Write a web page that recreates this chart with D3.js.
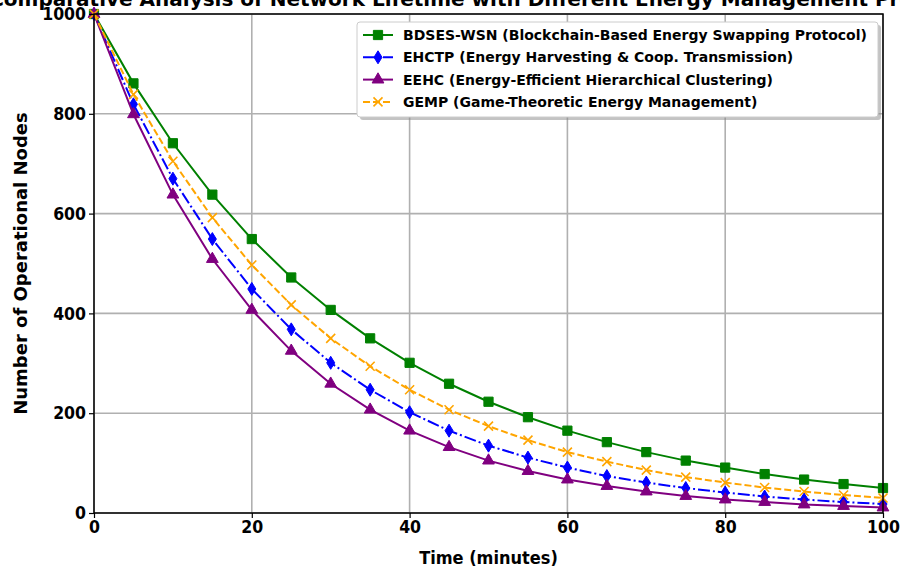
<!DOCTYPE html>
<html>
<head>
<meta charset="utf-8">
<script src="https://cdn.jsdelivr.net/npm/d3@7"></script>
<style>
  body { margin: 0; background: #fff; }
  svg { display: block; }
  .tick text { font-family: "DejaVu Sans Condensed", "DejaVu Sans"; font-weight: bold; font-size: 17.5px; fill: #000; }
</style>
</head>
<body>
<div class="viz"></div>
<script>
const width = 900, height = 569;
const margin = { top: 14, right: 17, bottom: 56, left: 94 };

const times = [0, 5, 10, 15, 20, 25, 30, 35, 40, 45, 50, 55, 60, 65, 70, 75, 80, 85, 90, 95, 100];
const bdses = [1000, 861, 741, 638, 549, 472, 407, 350, 301, 259, 223, 192, 165, 142, 122, 105, 91, 78, 67, 58, 50];
const ehctp = [1000, 819, 670, 549, 449, 368, 301, 247, 202, 165, 135, 111, 91, 74, 61, 50, 41, 33, 27, 22, 18];
const eehc = [1000, 799, 638, 509, 407, 325, 259, 207, 165, 132, 105, 84, 67, 54, 43, 34, 27, 22, 17, 14, 11];
const gemp = [1000, 839, 705, 592, 497, 417, 350, 294, 247, 207, 174, 146, 122, 103, 86, 72, 61, 51, 43, 36, 30];

const xTicks = [0, 20, 40, 60, 80, 100];
const yTicks = [0, 200, 400, 600, 800, 1000];

const series = [
  { name: "BDSES-WSN (Blockchain-Based Energy Swapping Protocol)", values: bdses, color: "green", dash: null, marker: "square" },
  { name: "EHCTP (Energy Harvesting & Coop. Transmission)", values: ehctp, color: "blue", dash: "12,3,2,3", marker: "diamond" },
  { name: "EEHC (Energy-Efficient Hierarchical Clustering)", values: eehc, color: "purple", dash: null, marker: "triangle" },
  { name: "GEMP (Game-Theoretic Energy Management)", values: gemp, color: "orange", dash: "7,3", marker: "x" }
];

const svg = d3.select(".viz").append("svg").attr("width", width).attr("height", height);

const x = d3.scaleLinear().domain([0, 100]).range([margin.left, width - margin.right]);
const y = d3.scaleLinear().domain([0, 1000]).range([height - margin.bottom, margin.top]);

// grid
svg.append("g").selectAll("line").data(xTicks).join("line")
  .attr("x1", d => x(d)).attr("x2", d => x(d))
  .attr("y1", y(0)).attr("y2", y(1000))
  .attr("stroke", "#b0b0b0").attr("stroke-width", 1.6);
svg.append("g").selectAll("line").data(yTicks).join("line")
  .attr("y1", d => y(d)).attr("y2", d => y(d))
  .attr("x1", x(0)).attr("x2", x(100))
  .attr("stroke", "#b0b0b0").attr("stroke-width", 1.6);

function markerPath(type) {
  if (type === "square") return d3.symbol(d3.symbolSquare, 85)();
  if (type === "triangle") return d3.symbol(d3.symbolTriangle, 60)();
  if (type === "diamond") return "M0,-6.5L4,0L0,6.5L-4,0Z";
  return "M-4.5,-4.5L4.5,4.5M-4.5,4.5L4.5,-4.5";
}

const line = d3.line().x((d, i) => x(times[i])).y(d => y(d));

series.forEach(s => {
  const g = svg.append("g");
  g.append("path")
    .attr("d", line(s.values))
    .attr("fill", "none")
    .attr("stroke", s.color)
    .attr("stroke-width", 2)
    .attr("stroke-dasharray", s.dash);
  g.selectAll("path.m").data(s.values).join("path")
    .attr("class", "m")
    .attr("transform", (d, i) => `translate(${x(times[i])},${y(d)})`)
    .attr("d", markerPath(s.marker))
    .attr("fill", s.marker === "x" ? "none" : s.color)
    .attr("stroke", s.color)
    .attr("stroke-width", s.marker === "x" ? 1.6 : 1);
});

// axes
const xAxis = svg.append("g").attr("transform", `translate(0,${y(0)})`)
  .call(d3.axisBottom(x).tickValues(xTicks).tickFormat(d3.format("d")).tickSize(5).tickPadding(3));
const yAxis = svg.append("g").attr("transform", `translate(${x(0)},0)`)
  .call(d3.axisLeft(y).tickValues(yTicks).tickFormat(d3.format("d")).tickSize(5).tickPadding(3));
[xAxis, yAxis].forEach(a => {
  a.select(".domain").remove();
  a.selectAll(".tick line").attr("stroke", "#000").attr("stroke-width", 1.2);
});

svg.append("rect")
  .attr("x", x(0)).attr("y", y(1000))
  .attr("width", x(100) - x(0)).attr("height", y(0) - y(1000))
  .attr("fill", "none").attr("stroke", "#000").attr("stroke-width", 1.5);

// labels
svg.append("text")
  .attr("x", 485).attr("y", 6)
  .attr("text-anchor", "middle")
  .style("font-family", "DejaVu Sans").style("font-weight", "bold").style("font-size", "20px")
  .text("Comparative Analysis of Network Lifetime with Different Energy Management Protocols");

svg.append("text")
  .attr("x", (x(0) + x(100)) / 2).attr("y", 564)
  .attr("text-anchor", "middle")
  .style("font-family", "DejaVu Sans Condensed, DejaVu Sans").style("font-weight", "bold").style("font-size", "18px")
  .text("Time (minutes)");

svg.append("text")
  .attr("transform", `translate(27,${(y(0) + y(1000)) / 2}) rotate(-90)`)
  .attr("text-anchor", "middle")
  .style("font-family", "DejaVu Sans").style("font-weight", "bold").style("font-size", "18px")
  .text("Number of Operational Nodes");

// legend
const lg = svg.append("g").attr("transform", "translate(357,22)");
lg.append("rect").attr("x", 3).attr("y", 3).attr("width", 521).attr("height", 95).attr("rx", 3)
  .attr("fill", "#888").attr("opacity", 0.5);
lg.append("rect").attr("width", 521).attr("height", 95).attr("rx", 3)
  .attr("fill", "#fff").attr("stroke", "#ccc").attr("stroke-width", 1);
series.forEach((s, i) => {
  const row = lg.append("g").attr("transform", `translate(0,${13 + i * 22.3})`);
  row.append("line").attr("x1", 6).attr("x2", 36)
    .attr("stroke", s.color).attr("stroke-width", 2).attr("stroke-dasharray", s.dash);
  row.append("path").attr("transform", "translate(21,0)")
    .attr("d", markerPath(s.marker))
    .attr("fill", s.marker === "x" ? "none" : s.color)
    .attr("stroke", s.color).attr("stroke-width", s.marker === "x" ? 1.6 : 1);
  row.append("text").attr("x", 46).attr("y", 5)
    .style("font-family", "DejaVu Sans").style("font-weight", "bold").style("font-size", "14px")
    .text(s.name);
});
</script>
</body>
</html>
